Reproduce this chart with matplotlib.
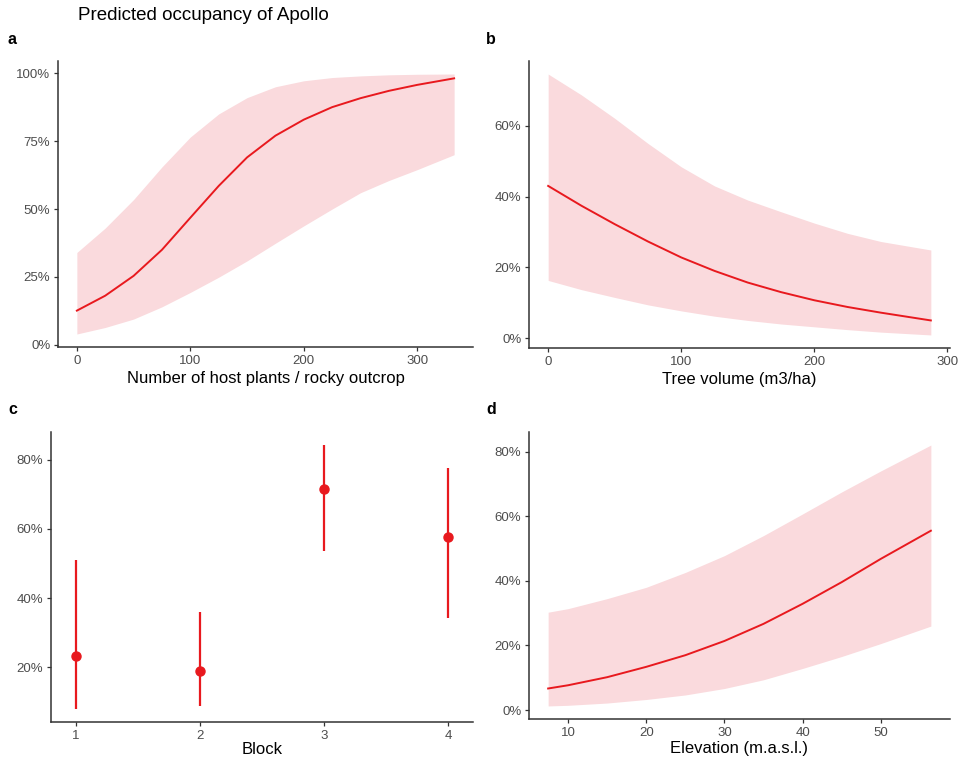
import matplotlib
matplotlib.use("Agg")
import matplotlib.pyplot as plt
from matplotlib.ticker import PercentFormatter

plt.rcParams["font.family"] = ["Liberation Sans", "DejaVu Sans"]

# panel a: number of host plants / rocky outcrop
host_x = [0, 25, 50, 75, 100, 125, 150, 175, 200, 225, 250, 275, 300, 332.5]
host_fit = [0.126, 0.181, 0.254, 0.350, 0.468, 0.585, 0.690, 0.770, 0.829, 0.875, 0.908, 0.935, 0.957, 0.981]
host_lo = [0.040, 0.064, 0.095, 0.140, 0.193, 0.249, 0.309, 0.374, 0.438, 0.500, 0.560, 0.605, 0.645, 0.700]
host_hi = [0.340, 0.430, 0.535, 0.655, 0.765, 0.850, 0.910, 0.950, 0.972, 0.984, 0.990, 0.994, 0.996, 0.997]

# panel b: tree volume
tree_x = [0, 25, 50, 75, 100, 125, 150, 175, 200, 225, 250, 287.6]
tree_fit = [0.430, 0.374, 0.322, 0.273, 0.228, 0.190, 0.157, 0.130, 0.107, 0.088, 0.072, 0.050]
tree_lo = [0.163, 0.137, 0.115, 0.094, 0.077, 0.062, 0.050, 0.040, 0.032, 0.024, 0.017, 0.009]
tree_hi = [0.746, 0.687, 0.621, 0.550, 0.484, 0.430, 0.390, 0.357, 0.325, 0.296, 0.273, 0.249]

# panel c: block
block = [1, 2, 3, 4]
block_fit = [0.232, 0.188, 0.714, 0.576]
block_lo = [0.080, 0.088, 0.537, 0.343]
block_hi = [0.510, 0.360, 0.842, 0.777]

# panel d: elevation
elev_x = [7.45, 10, 15, 20, 25, 30, 35, 40, 45, 50, 56.4]
elev_fit = [0.067, 0.077, 0.102, 0.134, 0.170, 0.214, 0.267, 0.329, 0.396, 0.468, 0.555]
elev_lo = [0.013, 0.015, 0.022, 0.033, 0.047, 0.067, 0.094, 0.129, 0.166, 0.206, 0.260]
elev_hi = [0.303, 0.314, 0.345, 0.380, 0.426, 0.478, 0.540, 0.607, 0.675, 0.740, 0.820]

red = "#e8191e"
ribbon = "#fadadd"
tick_col = "#4d4d4d"

fig = plt.figure(figsize=(9.64, 7.58), dpi=100)
W, H = 964, 758


def add_ax(left, top, right, bottom):
    return fig.add_axes([left / W, 1 - bottom / H, (right - left) / W, (bottom - top) / H])


def style(ax, xlabel, pad=3):
    for s in ("top", "right"):
        ax.spines[s].set_visible(False)
    for s in ("left", "bottom"):
        ax.spines[s].set_color("#333333")
        ax.spines[s].set_linewidth(1.1)
    ax.tick_params(colors="#333333", labelcolor=tick_col, labelsize=9.5, length=3, width=0.9, pad=2.5)
    ax.yaxis.set_major_formatter(PercentFormatter(1.0, decimals=0))
    ax.set_xlabel(xlabel, fontsize=12, color="black", labelpad=pad)


ax_a = add_ax(58, 61, 473, 347)
ax_a.fill_between(host_x, host_lo, host_hi, color=ribbon, lw=0)
ax_a.plot(host_x, host_fit, color=red, lw=1.4)
ax_a.set_xticks([0, 100, 200, 300])
ax_a.set_yticks([0, 0.25, 0.5, 0.75, 1.0])
style(ax_a, "Number of host plants / rocky outcrop")

ax_b = add_ax(529, 61, 950, 348)
ax_b.fill_between(tree_x, tree_lo, tree_hi, color=ribbon, lw=0)
ax_b.plot(tree_x, tree_fit, color=red, lw=1.4)
ax_b.set_xticks([0, 100, 200, 300])
ax_b.set_yticks([0, 0.2, 0.4, 0.6])
ax_b.set_xlim(-14.4, 302)
style(ax_b, "Tree volume (m3/ha)")

ax_c = add_ax(51, 432, 473, 722)
ax_c.vlines(block, block_lo, block_hi, color=red, lw=1.6)
ax_c.plot(block, block_fit, "o", color=red, ms=6.5)
ax_c.set_xticks(block)
ax_c.set_xlim(0.8, 4.2)
ax_c.set_yticks([0.2, 0.4, 0.6, 0.8])
style(ax_c, "Block", pad=0.5)

ax_d = add_ax(529, 432, 950, 719)
ax_d.fill_between(elev_x, elev_lo, elev_hi, color=ribbon, lw=0)
ax_d.plot(elev_x, elev_fit, color=red, lw=1.4)
ax_d.set_xticks([10, 20, 30, 40, 50])
ax_d.set_yticks([0, 0.2, 0.4, 0.6, 0.8])
style(ax_d, "Elevation (m.a.s.l.)", pad=2)

fig.text(78 / W, 1 - 16 / H, "Predicted occupancy of Apollo", fontsize=13.5, va="center", ha="left")
for lab, x, y in [("a", 8, 40), ("b", 486, 40), ("c", 8, 410), ("d", 486, 410)]:
    fig.text(x / W, 1 - y / H, lab, fontsize=11.5, fontweight="bold", va="center", ha="left")

fig.savefig("out.png", dpi=100, facecolor="white")
